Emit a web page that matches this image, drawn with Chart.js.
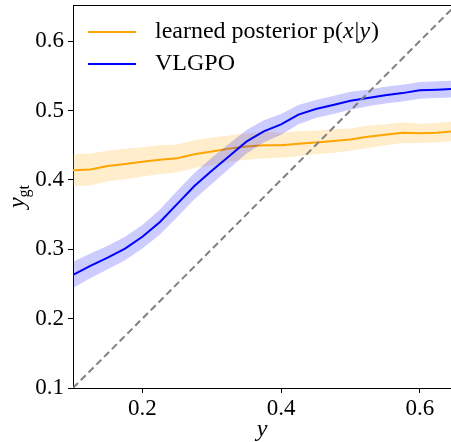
<!DOCTYPE html>
<html>
<head>
<meta charset="utf-8">
<script src="https://cdn.jsdelivr.net/npm/chart.js@4.4.0/dist/chart.umd.min.js"></script>
<style>
  html, body { margin: 0; padding: 0; background: #fff; }
  #wrap { width: 451px; height: 442px; }
</style>
</head>
<body>
<div id="wrap"><canvas id="myChart"></canvas></div>
<script>
// values
const yValues = [0.1, 0.125, 0.15, 0.175, 0.2, 0.225, 0.25, 0.275, 0.3, 0.325, 0.35, 0.375,
  0.4, 0.425, 0.45, 0.475, 0.5, 0.525, 0.55, 0.575, 0.6, 0.625, 0.65];

const posteriorMean = [0.414, 0.415, 0.420, 0.423, 0.426, 0.429, 0.431, 0.437, 0.441, 0.445, 0.448, 0.450,
  0.450, 0.452, 0.454, 0.456, 0.458, 0.462, 0.465, 0.468, 0.467, 0.468, 0.470];
const posteriorStd = [0.023, 0.023, 0.022, 0.022, 0.021, 0.021, 0.020, 0.020, 0.020, 0.019, 0.019, 0.019,
  0.018, 0.018, 0.017, 0.017, 0.016, 0.016, 0.015, 0.015, 0.014, 0.014, 0.014];

const vlgpoMean = [0.263, 0.276, 0.288, 0.301, 0.318, 0.339, 0.365, 0.391, 0.413, 0.434, 0.455, 0.470,
  0.480, 0.494, 0.502, 0.508, 0.514, 0.518, 0.522, 0.525, 0.529, 0.530, 0.531];
const vlgpoStd = [0.019, 0.018, 0.017, 0.017, 0.017, 0.018, 0.019, 0.019, 0.019, 0.018, 0.017, 0.016,
  0.015, 0.014, 0.013, 0.013, 0.013, 0.012, 0.012, 0.012, 0.012, 0.012, 0.012];

const diagonal = [0.1, 0.7];
const xTicks = [0.2, 0.4, 0.6];
const yTicks = [0.1, 0.2, 0.3, 0.4, 0.5, 0.6];

const serif = "'Liberation Serif', 'Times New Roman', serif";

function pts(xs, ys) {
  return xs.map((x, i) => ({ x: x, y: ys[i] }));
}
function shifted(mean, std, sign) {
  return mean.map((m, i) => m + sign * std[i]);
}

const ctx = document.getElementById('myChart');

const extras = {
  id: 'extras',
  afterDraw(chart) {
    const c = chart.ctx;
    const a = chart.chartArea;
    c.save();
    // top spine
    c.strokeStyle = '#000';
    c.lineWidth = 1;
    c.beginPath();
    c.moveTo(a.left, a.top + 0.5);
    c.lineTo(a.right, a.top + 0.5);
    c.stroke();

    // legend
    const rows = [
      { color: '#FFA500', y: 32 },
      { color: '#0000FF', y: 64 }
    ];
    rows.forEach(r => {
      c.strokeStyle = r.color;
      c.lineWidth = 2;
      c.beginPath();
      c.moveTo(88, r.y);
      c.lineTo(136, r.y);
      c.stroke();
    });
    c.fillStyle = '#000';
    c.textBaseline = 'middle';
    c.textAlign = 'left';
    const size = 24;
    const parts = [
      ['learned posterior p(', 'normal'],
      ['x', 'italic'],
      ['|', 'normal'],
      ['y', 'italic'],
      [')', 'normal']
    ];
    let x = 155;
    parts.forEach(p => {
      c.font = p[1] + ' ' + size + 'px ' + serif;
      c.fillText(p[0], x, 32);
      x += c.measureText(p[0]).width + (p[1] === 'italic' ? 1 : 0);
    });
    c.font = 'normal ' + size + 'px ' + serif;
    c.fillText('VLGPO', 155, 64);

    // x axis title
    c.font = 'italic ' + size + 'px ' + serif;
    c.textAlign = 'center';
    c.textBaseline = 'alphabetic';
    c.fillText('y', (a.left + a.right) / 2, 436);

    // y axis title with subscript
    c.translate(24, (a.top + a.bottom) / 2);
    c.rotate(-Math.PI / 2);
    c.font = 'italic ' + size + 'px ' + serif;
    const w1 = c.measureText('y').width;
    c.font = 'normal 16px ' + serif;
    const w2 = c.measureText('gt').width;
    const start = -(w1 + w2) / 2;
    c.textAlign = 'left';
    c.font = 'italic ' + size + 'px ' + serif;
    c.fillText('y', start, 0);
    c.font = 'normal 16px ' + serif;
    c.fillText('gt', start + w1, 5);
    c.restore();
  }
};

new Chart(ctx, {
  type: 'line',
  data: {
    datasets: [
      {
        label: 'diagonal',
        data: pts(diagonal, diagonal),
        borderColor: '#808080',
        borderWidth: 2,
        borderDash: [7, 4],
        pointRadius: 0,
        fill: false
      },
      {
        label: 'VLGPO',
        data: pts(yValues, vlgpoMean),
        borderColor: '#0000FF',
        borderWidth: 2,
        pointRadius: 0,
        fill: false
      },
      {
        label: 'VLGPO upper',
        data: pts(yValues, shifted(vlgpoMean, vlgpoStd, 1)),
        borderWidth: 0,
        borderColor: 'rgba(0,0,0,0)',
        backgroundColor: 'rgba(0,0,255,0.2)',
        pointRadius: 0,
        fill: '+1'
      },
      {
        label: 'VLGPO lower',
        data: pts(yValues, shifted(vlgpoMean, vlgpoStd, -1)),
        borderWidth: 0,
        borderColor: 'rgba(0,0,0,0)',
        pointRadius: 0,
        fill: false
      },
      {
        label: 'learned posterior',
        data: pts(yValues, posteriorMean),
        borderColor: '#FFA500',
        borderWidth: 2,
        pointRadius: 0,
        fill: false
      },
      {
        label: 'posterior upper',
        data: pts(yValues, shifted(posteriorMean, posteriorStd, 1)),
        borderWidth: 0,
        borderColor: 'rgba(0,0,0,0)',
        backgroundColor: 'rgba(255,165,0,0.2)',
        pointRadius: 0,
        fill: '+1'
      },
      {
        label: 'posterior lower',
        data: pts(yValues, shifted(posteriorMean, posteriorStd, -1)),
        borderWidth: 0,
        borderColor: 'rgba(0,0,0,0)',
        pointRadius: 0,
        fill: false
      }
    ]
  },
  options: {
    responsive: true,
    maintainAspectRatio: false,
    animation: false,
    events: [],
    elements: { line: { tension: 0 } },
    layout: { padding: { top: 5, right: 0, left: 0, bottom: 0 } },
    plugins: {
      legend: { display: false },
      tooltip: { enabled: false }
    },
    scales: {
      x: {
        type: 'linear',
        min: 0.1,
        max: 0.645,
        afterBuildTicks: s => { s.ticks = xTicks.map(v => ({ value: v })); },
        afterFit: s => {
          s.height = 54;
          s.paddingLeft = 0;
          s.paddingRight = 0;
        },
        grid: { drawOnChartArea: false, drawTicks: true, tickLength: 5, color: '#000' },
        border: { color: '#000', width: 1 },
        ticks: {
          color: '#000',
          padding: 2,
          maxRotation: 0,
          font: { family: serif, size: 23 },
          callback: v => v.toFixed(1)
        }
      },
      y: {
        type: 'linear',
        min: 0.1,
        max: 0.652,
        afterBuildTicks: s => { s.ticks = yTicks.map(v => ({ value: v })); },
        afterFit: s => {
          s.width = 73;
          s.paddingTop = 0;
          s.paddingBottom = 0;
        },
        grid: { drawOnChartArea: false, drawTicks: true, tickLength: 5, color: '#000' },
        border: { color: '#000', width: 1 },
        ticks: {
          color: '#000',
          padding: 4,
          font: { family: serif, size: 23 },
          callback: v => v.toFixed(1)
        }
      }
    }
  },
  plugins: [extras]
});
</script>
</body>
</html>
